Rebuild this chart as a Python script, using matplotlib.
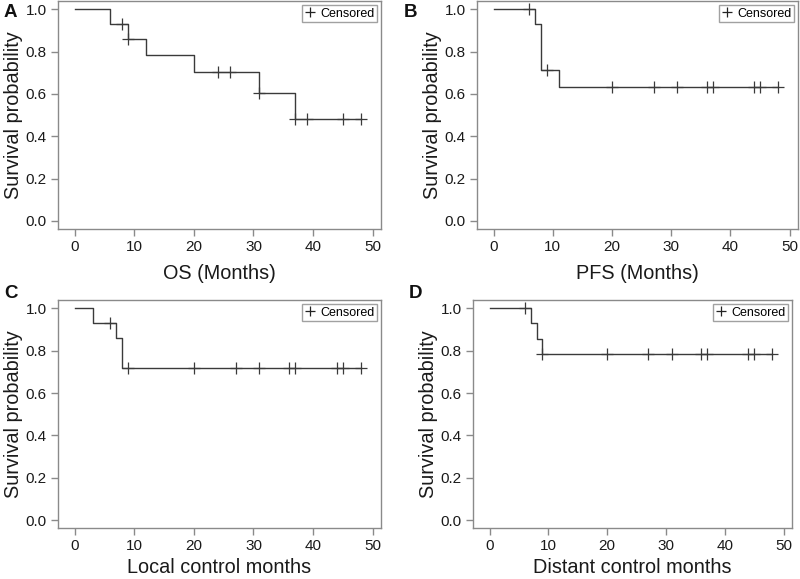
import numpy as np
import matplotlib.pyplot as plt
from matplotlib.lines import Line2D

plt.rcParams['font.family'] = ['Liberation Sans', 'DejaVu Sans']

# step curves: event times and survival after each step, plus censor times
a_times = [0, 6, 9, 12, 20, 31, 37, 48]
a_surv = [1.0, 0.933, 0.862, 0.784, 0.705, 0.604, 0.483, 0.483]
a_cens = [8, 9, 24, 26, 31, 37, 39, 45, 48]

b_times = [0, 7, 8, 11, 48]
b_surv = [1.0, 0.929, 0.714, 0.635, 0.635]
b_cens = [6, 9, 20, 27, 31, 36, 37, 44, 45, 48]

c_times = [0, 3, 7, 8, 48]
c_surv = [1.0, 0.933, 0.862, 0.718, 0.718]
c_cens = [6, 9, 20, 27, 31, 36, 37, 44, 45, 48]

d_times = [0, 7, 8, 9, 48]
d_surv = [1.0, 0.929, 0.857, 0.786, 0.786]
d_cens = [6, 9, 20, 27, 31, 36, 37, 44, 45, 48]

panels = [
    ('A', 'OS (Months)', a_times, a_surv, a_cens),
    ('B', 'PFS (Months)', b_times, b_surv, b_cens),
    ('C', 'Local control months', c_times, c_surv, c_cens),
    ('D', 'Distant control months', d_times, d_surv, d_cens),
]

# axes boxes in figure fractions [left, bottom, width, height]
boxes = [
    [0.0725, 0.6045, 0.4038, 0.394],
    [0.5963, 0.6045, 0.4012, 0.394],
    [0.0725, 0.0880, 0.4038, 0.394],
    [0.5913, 0.0880, 0.3987, 0.394],
]
letter_pos = [(0.005, 0.993), (0.505, 0.993), (0.005, 0.508), (0.511, 0.508)]
xlabel_pads = [7, 7, 3.5, 3.5]

fig = plt.figure(figsize=(8, 5.79), dpi=100)
line_col = '#3a3a3a'
spine_col = '#8a8a8a'

for (letter, xlabel, times, surv, cens), box, lp, xpad in zip(panels, boxes, letter_pos, xlabel_pads):
    ax = fig.add_axes(box)
    ax.step(times, surv, where='post', color=line_col, lw=1.0)
    idx = np.searchsorted(times, cens, side='right') - 1
    cy = np.array(surv)[idx]
    ax.plot(cens, cy, ls='none', marker='+', ms=8, mew=0.9, color=line_col)

    ax.set_xlim(-2.8, 51.4)
    ax.set_ylim(-0.038, 1.04)
    ax.set_xticks([0, 10, 20, 30, 40, 50])
    ax.set_yticks([0.0, 0.2, 0.4, 0.6, 0.8, 1.0])
    ax.set_yticklabels(['0.0', '0.2', '0.4', '0.6', '0.8', '1.0'])
    for s in ax.spines.values():
        s.set_color(spine_col)
        s.set_linewidth(1.0)
    ax.tick_params(direction='out', length=5, width=1.0, color=spine_col,
                   labelsize=11, labelcolor='#1a1a1a', pad=3)
    ax.set_xlabel(xlabel, fontsize=14.3, color='#1a1a1a', labelpad=xpad)
    ax.set_ylabel('Survival probability', fontsize=14.3, color='#1a1a1a', labelpad=2)

    h = Line2D([], [], ls='none', marker='+', ms=7, mew=0.9, color='#222222')
    leg = ax.legend([h], ['Censored'], loc='upper right', fontsize=9,
                    frameon=True, fancybox=False, handlelength=0.8,
                    handletextpad=0.4, borderpad=0.2, borderaxespad=0.35)
    leg.get_frame().set_edgecolor(spine_col)
    leg.get_frame().set_linewidth(1.0)

    fig.text(lp[0], lp[1], letter, fontsize=13.5, fontweight='bold',
             ha='left', va='top', color='#111111')

fig.savefig('out.png', dpi=100)
